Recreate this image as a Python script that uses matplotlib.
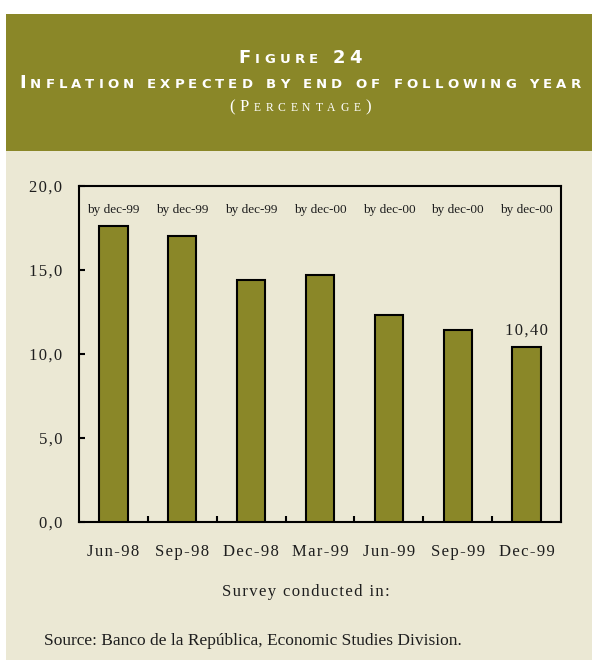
import matplotlib.pyplot as plt
from matplotlib.patches import Rectangle

# Survey dates and the inflation expected by the end of the following year (%)
surveys = ["Jun-98", "Sep-98", "Dec-98", "Mar-99", "Jun-99", "Sep-99", "Dec-99"]
expected = [17.6, 17.0, 14.4, 14.7, 12.3, 11.4, 10.4]
horizons = ["by dec-99", "by dec-99", "by dec-99", "by dec-00", "by dec-00", "by dec-00", "by dec-00"]
yticks = [0, 5, 10, 15, 20]
ytick_labels = ["0,0", "5,0", "10,0", "15,0", "20,0"]

W, H = 592, 661
OLIVE = "#8a8728"
BEIGE = "#ebe8d4"
INK = "#1e1e1e"
SERIF = "Liberation Serif"


def spaced(s):
    # loose letter spacing with hair spaces
    return "\u200a".join(s)


def fx(px):
    return px / W


def fy(py):
    return 1 - py / H


def small_caps(fig, text, xc, y, big, small, width, family, weight="normal"):
    """Draw text in small capitals, tracked out to a given pixel width."""
    renderer = fig.canvas.get_renderer()
    pieces = []
    for c in text:
        if c == " ":
            pieces.append((None, 0.3 * big * 100 / 72))
            continue
        size = big if (c.isupper() or c.isdigit() or c in "()") else small
        t = fig.text(0, fy(y), c.upper(), fontsize=size, family=family,
                     weight=weight, color="white", ha="left", va="baseline")
        pieces.append((t, t.get_window_extent(renderer).width))
    natural = sum(w for _, w in pieces)
    track = (width - natural) / (len(pieces) - 1)
    x = xc - width / 2
    for t, w in pieces:
        if t is not None:
            t.set_x(fx(x))
        x += w + track


fig = plt.figure(figsize=(W / 100, H / 100), dpi=100, facecolor="white")

# header band and panel background
fig.patches.append(Rectangle((fx(6), fy(151)), fx(592) - fx(6), fy(14) - fy(151),
                             transform=fig.transFigure, facecolor=OLIVE, edgecolor="none", zorder=-10))
fig.patches.append(Rectangle((fx(6), fy(660)), fx(592) - fx(6), fy(151) - fy(660),
                             transform=fig.transFigure, facecolor=BEIGE, edgecolor="none", zorder=-10))

small_caps(fig, "Figure 24", 300, 63, 13, 9.5, 124, "DejaVu Sans", "bold")
small_caps(fig, "Inflation expected by end of following year", 300, 88, 13, 9.5, 561,
           "DejaVu Sans", "bold")
small_caps(fig, "(Percentage)", 300, 111, 12, 8.4, 142, SERIF)

ax = fig.add_axes([fx(79), fy(522), fx(561) - fx(79), fy(186) - fy(522)])
ax.set_facecolor(BEIGE)

x = range(len(surveys))
ax.bar(x, expected, width=0.41, color=OLIVE, edgecolor="black", linewidth=1.5, zorder=3)

for i, h in enumerate(horizons):
    ax.text(i, 18.55, h, ha="center", va="center", fontsize=9.5, family=SERIF, color=INK)

ax.annotate(spaced(f"{expected[-1]:.2f}".replace(".", ",")), (len(surveys) - 1, expected[-1]),
            xytext=(0, 6), textcoords="offset points", ha="center", va="bottom",
            fontsize=12, family=SERIF, color=INK)

ax.set_xlim(-0.5, len(surveys) - 0.5)
ax.set_ylim(0, 20)
ax.set_yticks(yticks)
ax.set_yticklabels([spaced(s) for s in ytick_labels], family=SERIF, fontsize=12, color=INK)
ax.set_xticks(list(x))
ax.set_xticklabels([spaced(s) for s in surveys], family=SERIF, fontsize=12, color=INK)
ax.set_xticks([i + 0.5 for i in range(len(surveys) - 1)], minor=True)
ax.tick_params(axis="y", direction="in", length=4, width=1.5, pad=12)
ax.tick_params(axis="x", which="major", length=0, pad=16)
ax.tick_params(axis="x", which="minor", direction="in", length=4, width=1.5)
for s in ax.spines.values():
    s.set_linewidth(1.5)

fig.text(fx(306), fy(592), spaced("Survey conducted in:"), ha="center", va="center",
         fontsize=12, family=SERIF, color=INK)
fig.text(fx(44), fy(641), "Source: Banco de la República, Economic Studies Division.",
         ha="left", va="center", fontsize=12.5, family=SERIF, color=INK)

fig.savefig("out.png", dpi=100, facecolor="white")
